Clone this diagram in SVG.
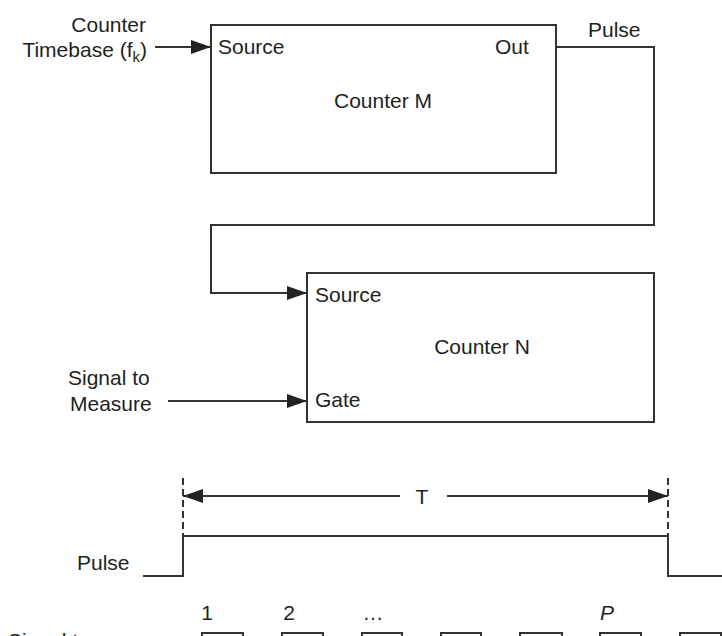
<svg xmlns="http://www.w3.org/2000/svg" width="722" height="636" viewBox="0 0 722 636">
  <style>
    text { font-family: "Liberation Sans", Arial, sans-serif; font-size: 21px; fill: #231f20; }
    .box { fill: none; stroke: #333; stroke-width: 2; }
    .wire { fill: none; stroke: #333; stroke-width: 2; }
    .dash { fill: none; stroke: #333; stroke-width: 2; stroke-dasharray: 7 4; }
  </style>
  <defs>
    <marker id="arr" markerWidth="20" markerHeight="14" refX="20" refY="7" orient="auto" markerUnits="userSpaceOnUse">
      <path d="M0,0 L20,7 L0,14 Z" fill="#222"/>
    </marker>
  </defs>
  <rect width="722" height="636" fill="#fff"/>

  <g id="counter-m">
    <rect class="box" x="211" y="25" width="345" height="148"/>
    <text x="218" y="54">Source</text>
    <text x="495" y="54">Out</text>
    <text x="383" y="108" text-anchor="middle">Counter M</text>
  </g>

  <g id="counter-n">
    <rect class="box" x="307" y="273" width="347" height="149"/>
    <text x="315" y="302">Source</text>
    <text x="315" y="407">Gate</text>
    <text x="482" y="354" text-anchor="middle">Counter N</text>
  </g>

  <g id="labels">
    <text x="146" y="32" text-anchor="end">Counter</text>
    <text x="147" y="57" text-anchor="end">Timebase (f<tspan font-size="15" dy="5">k</tspan><tspan dy="-5">)</tspan></text>
    <text x="588" y="37">Pulse</text>
    <text x="68" y="385">Signal to</text>
    <text x="70" y="411">Measure</text>
  </g>

  <g id="connectors">
    <line class="wire" x1="155" y1="47" x2="211" y2="47" marker-end="url(#arr)"/>
    <polyline class="wire" points="556,47 654,47 654,225 211,225 211,293 307,293" marker-end="url(#arr)"/>
    <line class="wire" x1="168" y1="401" x2="307" y2="401" marker-end="url(#arr)"/>
  </g>

  <g id="timing">
    <line class="dash" x1="183" y1="478" x2="183" y2="536"/>
    <line class="dash" x1="668" y1="478" x2="668" y2="536"/>
    <line class="wire" x1="400" y1="496" x2="183" y2="496" marker-end="url(#arr)"/>
    <line class="wire" x1="447" y1="496" x2="668" y2="496" marker-end="url(#arr)"/>
    <text x="422" y="504" text-anchor="middle">T</text>
    <polyline class="wire" points="143,576 183,576 183,536 668,536 668,576 722,576"/>
    <text x="77" y="570">Pulse</text>
    <text x="207" y="620" text-anchor="middle">1</text>
    <text x="289" y="620" text-anchor="middle">2</text>
    <text x="373" y="620" text-anchor="middle">…</text>
    <text x="607" y="620" text-anchor="middle" font-style="italic">P</text>
    <text x="8" y="648">Signal to</text>
    <rect class="box" x="202" y="633" width="41" height="20"/>
    <rect class="box" x="282" y="633" width="41" height="20"/>
    <rect class="box" x="362" y="633" width="40" height="20"/>
    <rect class="box" x="441" y="633" width="40" height="20"/>
    <rect class="box" x="520" y="633" width="42" height="20"/>
    <rect class="box" x="600" y="633" width="41" height="20"/>
    <rect class="box" x="680" y="633" width="41" height="20"/>
  </g>
</svg>
